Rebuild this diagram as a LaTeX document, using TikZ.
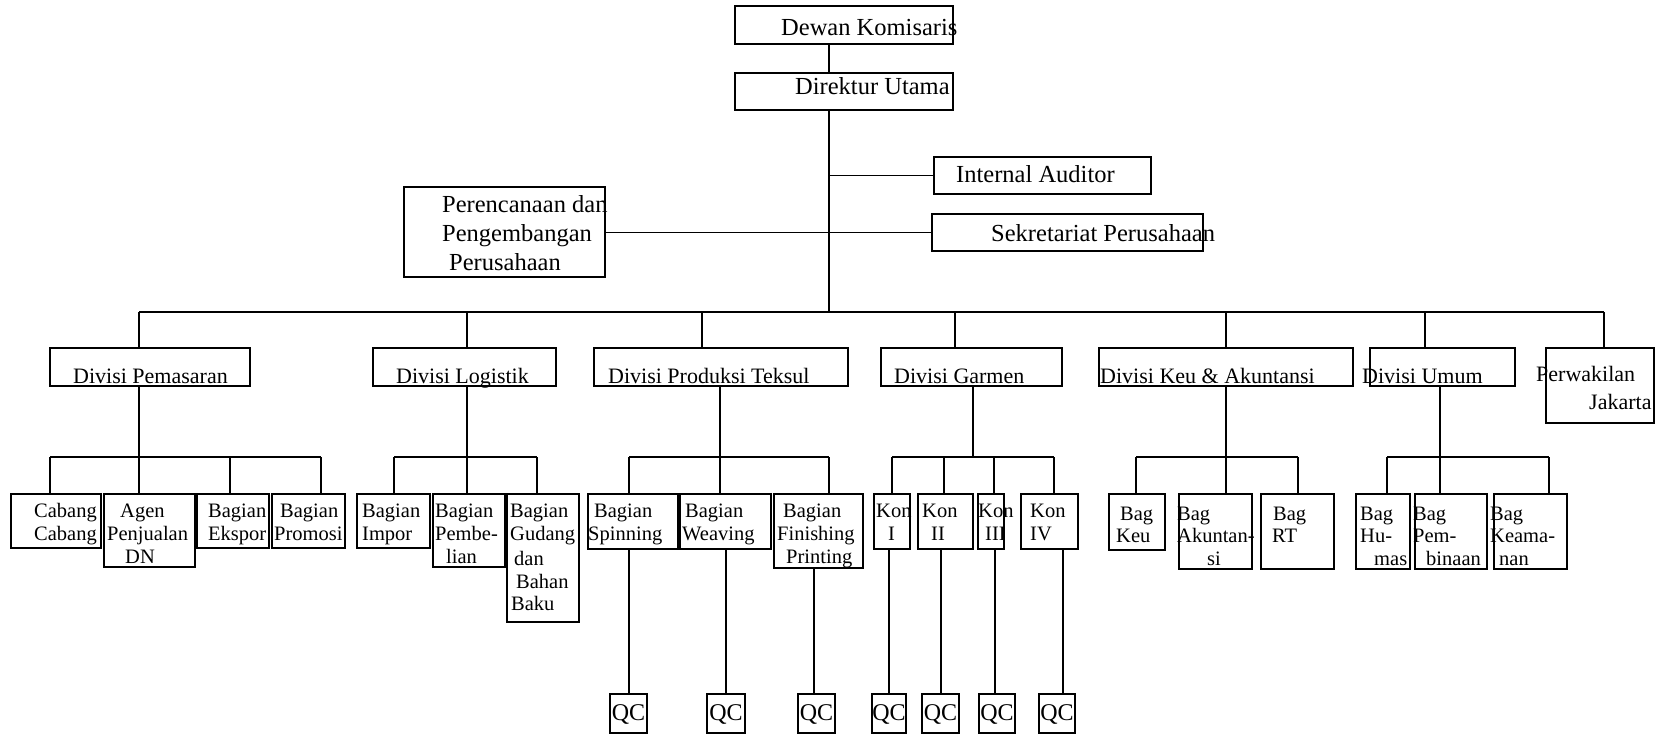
\documentclass[tikz,border=0pt]{standalone}
\usepackage{fontspec}
\setmainfont{Liberation Serif}
\newcommand\ftop{\fontsize{24.5}{28}\selectfont}
\newcommand\fdiv{\fontsize{22}{26}\selectfont}
\newcommand\fch{\fontsize{20.5}{23}\selectfont}
\newcommand\fqc{\fontsize{24}{28}\selectfont}
% box by corners: name, x1, y1, x2, y2
\newcommand\bx[5]{\node[box, minimum width={#4pt-#2pt}, minimum height={#5pt-#3pt}] (#1) at ({(#2+#4)/2},{(#3+#5)/2}) {};}
% text: font, name, x, baseline y, text
\newcommand\tx[5]{\node[lbl, font=#1] (#2) at (#3,#4) {#5};}
% drop from sub-bus (y=457) to a child box
\newcommand\dropto[3]{\coordinate (#1) at (#2,457); \draw[conn] (#1) -- (#1 |- #3.north);}
% line from a unit box down to its QC box
\newcommand\qcline[4]{\coordinate (#1) at (#2,650); \draw[conn] (#1 |- #3.south) -- (#1 |- #4.north);}
\begin{document}
\begin{tikzpicture}[x=1pt,y=-1pt,
  box/.style={draw,line width=1.8pt,inner sep=0pt,outer sep=0pt},
  lbl/.style={anchor=base west,inner sep=0pt},
  qct/.style={anchor=base,inner sep=0pt,font=\fqc},
  conn/.style={line width=1.6pt}]
\useasboundingbox (0,0) rectangle (1656,735);

% ---------- top boxes
\bx{dewan}{735}{6}{953}{44}
\bx{direk}{735}{73}{953}{110}
\bx{ia}{934}{157}{1151}{194}
\bx{sek}{932}{214}{1203}{251}
\bx{per}{404}{187}{605}{277}

% ---------- divisions
\bx{pem}{50}{348}{250}{386}
\bx{log}{373}{348}{556}{386}
\bx{pro}{594}{348}{848}{386}
\bx{gar}{881}{348}{1062}{386}
\bx{keu}{1099}{348}{1353}{386}
\bx{umu}{1370}{348}{1515}{386}
\bx{pwk}{1546}{348}{1654}{423}

% ---------- units
\bx{cab}{11}{494}{101}{548}
\bx{agen}{104}{494}{195}{567}
\bx{eks}{197}{494}{269}{548}
\bx{prm}{272}{494}{345}{548}
\bx{imp}{357}{494}{430}{548}
\bx{pbl}{433}{494}{505}{567}
\bx{gud}{507}{494}{579}{622}
\bx{spn}{588}{494}{678}{549}
\bx{wea}{680}{494}{771}{549}
\bx{fin}{774}{494}{863}{568}
\bx{kon1}{874}{494}{910}{549}
\bx{kon2}{918}{494}{973}{549}
\bx{kon3}{978}{494}{1004}{549}
\bx{kon4}{1021}{494}{1078}{549}
\bx{bkeu}{1109}{494}{1165}{550}
\bx{bak}{1179}{494}{1252}{569}
\bx{brt}{1261}{494}{1334}{569}
\bx{bhu}{1356}{494}{1410}{569}
\bx{bpb}{1415}{494}{1487}{569}
\bx{bka}{1494}{494}{1567}{569}

% ---------- QC boxes
\bx{q1}{610}{694}{647}{733}
\bx{q2}{707}{694}{745}{733}
\bx{q3}{798}{694}{835}{733}
\bx{q4}{872}{694}{906}{733}
\bx{q5}{922}{694}{959}{733}
\bx{q6}{979}{694}{1015}{733}
\bx{q7}{1039}{694}{1075}{733}

% ---------- texts
\tx{\ftop}{t1}{781}{36}{Dewan Komisaris}
\tx{\ftop}{t2}{795}{95}{Direktur Utama}
\tx{\ftop}{t3}{956}{183}{Internal Auditor}
\tx{\ftop}{t4}{991}{242}{Sekretariat Perusahaan}
\tx{\ftop}{t5}{442}{213}{Perencanaan dan}
\tx{\ftop}{t6}{442}{242}{Pengembangan}
\tx{\ftop}{t7}{449}{271}{Perusahaan}

\tx{\fdiv}{t8}{73}{383}{Divisi Pemasaran}
\tx{\fdiv}{t9}{396}{383}{Divisi Logistik}
\tx{\fdiv}{t10}{608}{383}{Divisi Produksi Teksul}
\tx{\fdiv}{t11}{894}{383}{Divisi Garmen}
\tx{\fdiv}{t12}{1100}{383}{Divisi Keu \& Akuntansi}
\tx{\fdiv}{t13}{1362}{383}{Divisi Umum}
\tx{\fdiv}{t14}{1536}{381}{Perwakilan}
\tx{\fdiv}{t15}{1589}{409}{Jakarta}

\tx{\fch}{c1}{34}{517}{Cabang}
\tx{\fch}{c2}{34}{540}{Cabang}
\tx{\fch}{c3}{120}{517}{Agen}
\tx{\fch}{c4}{107}{540}{Penjualan}
\tx{\fch}{c5}{125}{563}{DN}
\tx{\fch}{c6}{208}{517}{Bagian}
\tx{\fch}{c7}{208}{540}{Ekspor}
\tx{\fch}{c8}{280}{517}{Bagian}
\tx{\fch}{c9}{274}{540}{Promosi}
\tx{\fch}{c10}{362}{517}{Bagian}
\tx{\fch}{c11}{362}{540}{Impor}
\tx{\fch}{c12}{435}{517}{Bagian}
\tx{\fch}{c13}{435}{540}{Pembe-}
\tx{\fch}{c14}{446}{563}{lian}
\tx{\fch}{c15}{510}{517}{Bagian}
\tx{\fch}{c16}{510}{540}{Gudang}
\tx{\fch}{c17}{514}{565}{dan}
\tx{\fch}{c18}{516}{588}{Bahan}
\tx{\fch}{c19}{511}{610}{Baku}
\tx{\fch}{c20}{594}{517}{Bagian}
\tx{\fch}{c21}{588}{540}{Spinning}
\tx{\fch}{c22}{685}{517}{Bagian}
\tx{\fch}{c23}{682}{540}{Weaving}
\tx{\fch}{c24}{783}{517}{Bagian}
\tx{\fch}{c25}{777}{540}{Finishing}
\tx{\fch}{c26}{786}{563}{Printing}
\tx{\fch}{c27}{876}{517}{Kon}
\tx{\fch}{c28}{888}{540}{I}
\tx{\fch}{c29}{922}{517}{Kon}
\tx{\fch}{c30}{931}{540}{II}
\tx{\fch}{c31}{978}{517}{Kon}
\tx{\fch}{c32}{985}{540}{III}
\tx{\fch}{c33}{1030}{517}{Kon}
\tx{\fch}{c34}{1030}{540}{IV}
\tx{\fch}{c35}{1120}{520}{Bag}
\tx{\fch}{c36}{1116}{542}{Keu}
\tx{\fch}{c37}{1177}{520}{Bag}
\tx{\fch}{c38}{1177}{542}{Akuntan-}
\tx{\fch}{c39}{1207}{565}{si}
\tx{\fch}{c40}{1273}{520}{Bag}
\tx{\fch}{c41}{1272}{542}{RT}
\tx{\fch}{c42}{1360}{520}{Bag}
\tx{\fch}{c43}{1360}{542}{Hu-}
\tx{\fch}{c44}{1374}{565}{mas}
\tx{\fch}{c45}{1413}{520}{Bag}
\tx{\fch}{c46}{1413}{542}{Pem-}
\tx{\fch}{c47}{1426}{565}{binaan}
\tx{\fch}{c48}{1490}{520}{Bag}
\tx{\fch}{c49}{1490}{542}{Keama-}
\tx{\fch}{c50}{1499}{565}{nan}

\node[qct] (tq1) at (628.5,720) {QC};
\node[qct] (tq2) at (726,720) {QC};
\node[qct] (tq3) at (816.5,720) {QC};
\node[qct] (tq4) at (889,720) {QC};
\node[qct] (tq5) at (940.5,720) {QC};
\node[qct] (tq6) at (997,720) {QC};
\node[qct] (tq7) at (1057,720) {QC};

% ---------- connectors: top
\coordinate (tr) at (829,312);
\draw[conn] (dewan.south -| tr) -- (direk.north -| tr);
\draw[conn] (direk.south -| tr) -- (tr);
\draw[conn] (tr |- ia.west) -- (ia.west);
\draw[conn] (per.east |- sek.west) -- (sek.west);

% ---------- main bus
\coordinate (bpem) at (139,312);
\coordinate (blog) at (467,312);
\coordinate (bpro) at (702,312);
\coordinate (bgar) at (955,312);
\coordinate (bkeuc) at (1226,312);
\coordinate (bumu) at (1425,312);
\coordinate (bpwk) at (1604,312);
\draw[conn] (bpem) -- (bpwk);
\foreach \c/\n in {bpem/pem,blog/log,bpro/pro,bgar/gar,bkeuc/keu,bumu/umu,bpwk/pwk}
  \draw[conn] (\c) -- (\c |- \n.north);

% ---------- Pemasaran
\coordinate (sP) at (139,457);
\draw[conn] (pem.south -| sP) -- (sP);
\dropto{dP1}{50}{cab}
\dropto{dP2}{139}{agen}
\dropto{dP3}{230}{eks}
\dropto{dP4}{321}{prm}
\draw[conn] (dP1) -- (dP4);

% ---------- Logistik
\coordinate (sL) at (467,457);
\draw[conn] (log.south -| sL) -- (sL);
\dropto{dL1}{394}{imp}
\dropto{dL2}{467}{pbl}
\dropto{dL3}{537}{gud}
\draw[conn] (dL1) -- (dL3);

% ---------- Produksi Teksul
\coordinate (sT) at (720,457);
\draw[conn] (pro.south -| sT) -- (sT);
\dropto{dT1}{629}{spn}
\dropto{dT2}{720}{wea}
\dropto{dT3}{829}{fin}
\draw[conn] (dT1) -- (dT3);

% ---------- Garmen
\coordinate (sG) at (973,457);
\draw[conn] (gar.south -| sG) -- (sG);
\dropto{dG1}{892}{kon1}
\dropto{dG2}{944}{kon2}
\dropto{dG3}{994}{kon3}
\dropto{dG4}{1054}{kon4}
\draw[conn] (dG1) -- (dG4);

% ---------- Keu & Akuntansi
\coordinate (sK) at (1226,457);
\draw[conn] (keu.south -| sK) -- (sK);
\dropto{dK1}{1136}{bkeu}
\dropto{dK2}{1226}{bak}
\dropto{dK3}{1298}{brt}
\draw[conn] (dK1) -- (dK3);

% ---------- Umum
\coordinate (sU) at (1440,457);
\draw[conn] (umu.south -| sU) -- (sU);
\dropto{dU1}{1387}{bhu}
\dropto{dU2}{1440}{bpb}
\dropto{dU3}{1549}{bka}
\draw[conn] (dU1) -- (dU3);

% ---------- QC lines
\qcline{l1}{629}{spn}{q1}
\qcline{l2}{726}{wea}{q2}
\qcline{l3}{814}{fin}{q3}
\qcline{l4}{889}{kon1}{q4}
\qcline{l5}{941}{kon2}{q5}
\qcline{l6}{995}{kon3}{q6}
\qcline{l7}{1063}{kon4}{q7}
\end{tikzpicture}
\end{document}
